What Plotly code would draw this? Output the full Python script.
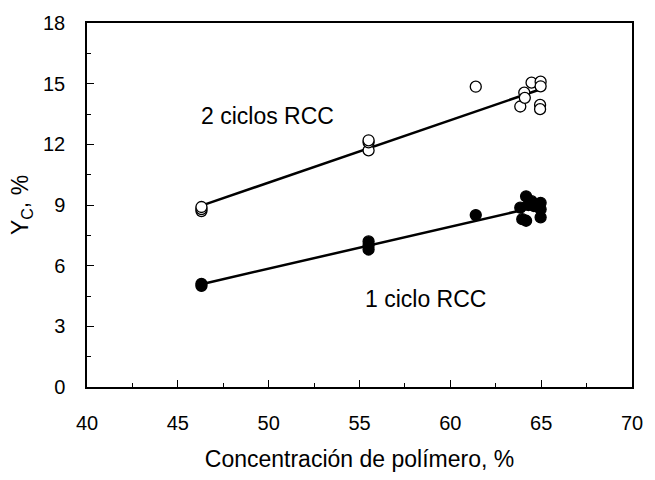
import numpy as np
import plotly.graph_objects as go

# Data
x_2c = [46.3, 46.3, 46.3, 55.5, 55.5, 55.5, 61.4, 63.85, 64.07, 64.1, 64.47, 64.97, 64.97, 64.94, 64.94]
y_2c = [8.7, 8.8, 8.9, 11.7, 12.1, 12.2, 14.85, 13.87, 14.56, 14.3, 15.05, 15.1, 14.87, 13.95, 13.74]

x_1c = [46.3, 46.3, 55.5, 55.5, 55.5, 61.4, 64.17, 63.85, 63.96, 64.17, 64.47, 64.97, 64.97, 64.97, 64.6, 64.3]
y_1c = [5.0, 5.1, 6.8, 7.0, 7.2, 8.5, 9.43, 8.87, 8.3, 8.22, 9.19, 9.11, 8.79, 8.39, 8.95, 9.0]

label_2c = "2 ciclos RCC"
label_1c = "1 ciclo RCC"
x_title = "Concentración de polímero, %"
y_title = "Y<sub>C</sub>, %"

FONT = "Liberation Sans, Arial, sans-serif"

def fit(xs, ys):
    m, b = np.polyfit(xs, ys, 1)
    xx = np.array([min(xs), max(xs)])
    return xx, m * xx + b

fig = go.Figure()

for xs, ys, fill in [(x_2c, y_2c, "white"), (x_1c, y_1c, "black")]:
    fx, fy = fit(xs, ys)
    fig.add_trace(go.Scatter(x=fx, y=fy, mode="lines",
                             line=dict(color="black", width=2.5),
                             showlegend=False, hoverinfo="skip"))
    fig.add_trace(go.Scatter(x=xs, y=ys, mode="markers",
                             marker=dict(size=11, color=fill,
                                         line=dict(color="black", width=1.3)),
                             showlegend=False))

fig.add_annotation(x=46.15, y=13.4, text=label_2c, showarrow=False,
                   xanchor="left", yanchor="middle",
                   font=dict(family=FONT, size=23, color="black"))
fig.add_annotation(x=55.2, y=4.35, text=label_1c, showarrow=False,
                   xanchor="left", yanchor="middle",
                   font=dict(family=FONT, size=23, color="black"))

axis_common = dict(
    showgrid=False, zeroline=False, showline=True, linecolor="black",
    linewidth=1.5, mirror=True, ticks="inside", ticklen=7, tickwidth=1,
    tickcolor="black",
    tickfont=dict(family=FONT, size=20, color="black"),
)

fig.update_xaxes(range=[40, 70], tick0=40, dtick=5,
                 minor=dict(dtick=2.5, ticks="inside", ticklen=4, tickcolor="black"),
                 ticklabelstandoff=17,
                 title=dict(text=x_title, font=dict(family=FONT, size=23, color="black"),
                            standoff=18),
                 **axis_common)
fig.update_yaxes(range=[0, 18], tick0=0, dtick=3,
                 minor=dict(dtick=1.5, ticks="inside", ticklen=4, tickcolor="black"),
                 ticklabelstandoff=16,
                 title=dict(text=y_title, font=dict(family=FONT, size=23, color="black"),
                            standoff=8),
                 **axis_common)

fig.update_layout(width=655, height=480,
                  margin=dict(l=87, r=14, t=18, b=90),
                  plot_bgcolor="white", paper_bgcolor="white",
                  font=dict(family=FONT, color="black"))

fig.write_html("out.html")
